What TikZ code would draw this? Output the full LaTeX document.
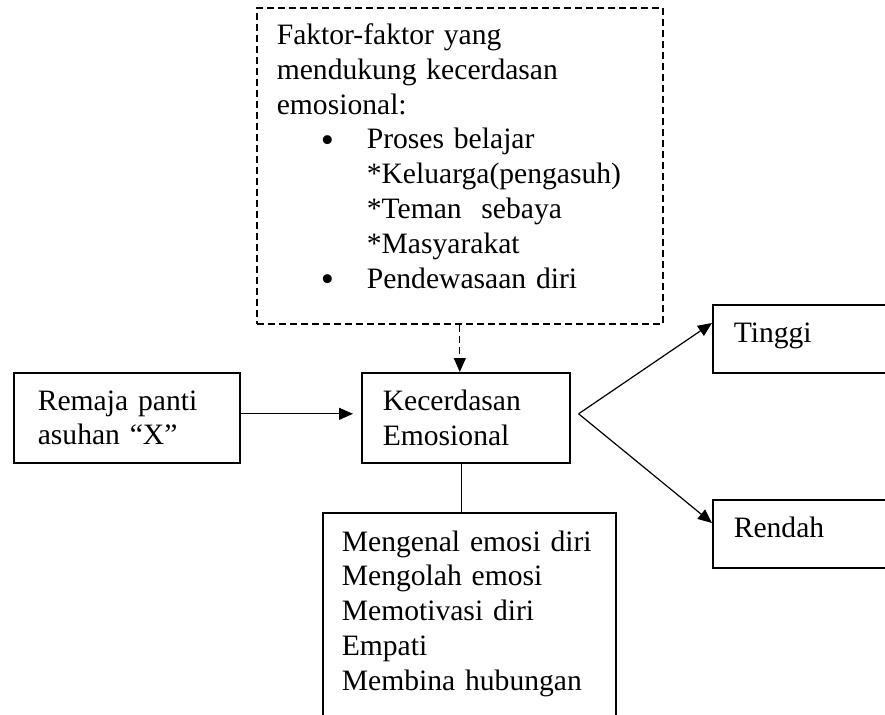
\documentclass[tikz,border=0pt]{standalone}
\usepackage{fontspec}
\setmainfont{Liberation Serif}
\usetikzlibrary{arrows.meta}
\tikzset{
  kotak/.style={draw,line width=0.8pt,anchor=north west,align=left,inner ysep=2pt,
    font=\fontsize{14.8}{17.4}\selectfont},
  hasil/.style={kotak,inner xsep=10.5pt,text width=80pt,minimum height=34pt,
    text height=10pt,text depth=6pt},
  panah/.style={-{Triangle[length=7pt,width=6pt]},line width=0.6pt},
  putus/.style={dash pattern=on 3.5pt off 2pt}
}
\newcommand{\butir}{\hspace*{22pt}\makebox[23pt][l]{\raisebox{-1.8pt}{\fontsize{18.7}{18.7}\selectfont\textbullet}}}
\newcommand{\sub}{\hspace*{45pt}}
\begin{document}
\begin{tikzpicture}[x=0.5pt,y=-0.5pt]
  \useasboundingbox (0,0) rectangle (885,714);
  \clip (0,0) rectangle (885,714);
  \node[kotak,putus,inner xsep=10pt,text width=183pt,minimum height=158pt] (faktor) at (256,7)
    {Faktor-faktor yang\\ mendukung kecerdasan\\ emosional:\\
     \butir Proses belajar\\ \sub*Keluarga(pengasuh)\\ \sub*Teman\ \ sebaya\\
     \sub*Masyarakat\\ \butir Pendewasaan diri\rule[-10pt]{0pt}{0pt}};
  \node[kotak,inner xsep=12pt,text width=89pt,minimum height=45pt] (remaja) at (13,372)
    {Remaja panti\\ asuhan “X”};
  \node[kotak,inner xsep=10.5pt,text width=83pt,minimum height=45pt] (kec) at (361,372)
    {Kecerdasan\\ Emosional};
  \node[kotak,inner xsep=9.5pt,text width=127.5pt,minimum height=115pt] (aspek) at (322,512)
    {Mengenal emosi diri\\ Mengolah emosi\\ Memotivasi diri\\ Empati\\ Membina hubungan\\ ~};
  \node[hasil] (tinggi) at (712,304) {Tinggi};
  \node[hasil] (rendah) at (712,499) {Rendah};
  \coordinate (cabang) at ([xshift=4pt,yshift=2pt]kec.east);
  % hubungan antar kotak
  \draw[panah,putus] (faktor.south) -- (faktor.south |- kec.north);
  \draw[panah,shorten >=4pt] ([yshift=2pt]remaja.east) -- ([yshift=2pt]kec.west);
  \draw[line width=0.6pt] ([xshift=-2pt]kec.south) -- ([xshift=-2pt]kec.south |- aspek.north);
  \draw[panah] (cabang) -- ([yshift=-9.5pt]tinggi.north west);
  \draw[panah] (cabang) -- ([yshift=-12pt]rendah.north west);
\end{tikzpicture}
\end{document}
